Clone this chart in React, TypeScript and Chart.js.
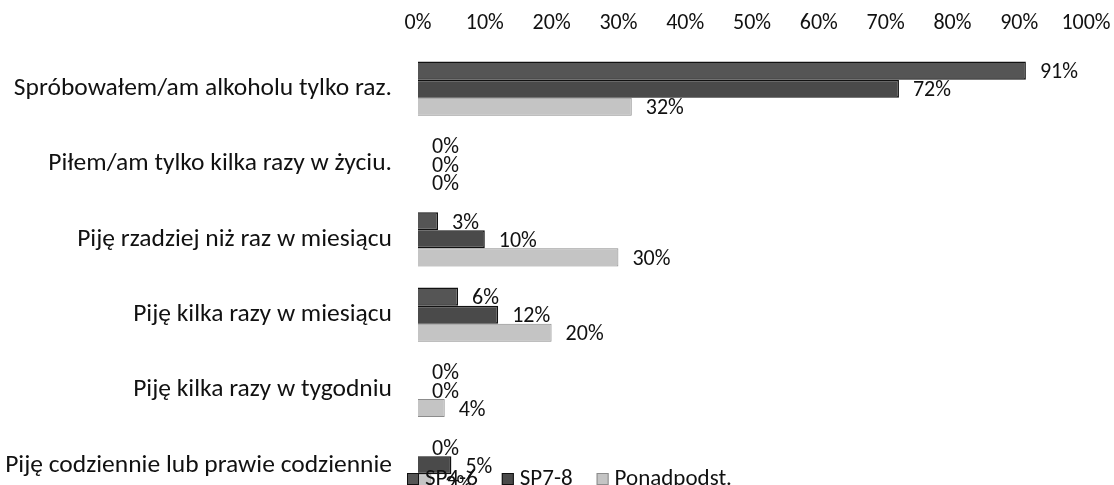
import React, { useEffect, useRef } from "react";
import { Chart, registerables } from "chart.js";

Chart.register(...registerables);

const categories = [
  "Spróbowałem/am alkoholu tylko raz.",
  "Piłem/am tylko kilka razy w życiu.",
  "Piję rzadziej niż raz w miesiącu",
  "Piję kilka razy w miesiącu",
  "Piję kilka razy w tygodniu",
  "Piję codziennie lub prawie codziennie",
];
const seriesNames = ["SP4-6", "SP7-8", "Ponadpodst."];
const sp46 = [91, 0, 3, 6, 0, 0];
const sp78 = [72, 0, 10, 12, 0, 5];
const ponad = [32, 0, 30, 20, 4, 2];
const xTicks = [0, 10, 20, 30, 40, 50, 60, 70, 80, 90, 100];

const FONT = "Carlito, Lato, 'Liberation Sans', sans-serif";
const fills = ["#555555", "#4a4a4a", "#c4c4c4"];
const borders = ["#111111", "#111111", "#8c8c8c"];

const labelPlugin = {
  id: "valueLabels",
  afterDatasetsDraw(chart: any) {
    const ctx = chart.ctx;
    ctx.save();
    ctx.font = `22px ${FONT}`;
    ctx.fillStyle = "#111";
    ctx.textAlign = "left";
    ctx.textBaseline = "middle";
    chart.data.datasets.forEach((ds: any, i: number) => {
      const meta = chart.getDatasetMeta(i);
      meta.data.forEach((bar: any, j: number) => {
        ctx.fillText(ds.data[j] + "%", bar.x + 14, bar.y + 2);
      });
    });
    ctx.restore();
  },
};

const legendPlugin = {
  id: "bottomLegend",
  afterDraw(chart: any) {
    const ctx = chart.ctx;
    ctx.save();
    ctx.font = `23px ${FONT}`;
    ctx.textAlign = "left";
    ctx.textBaseline = "middle";
    let x = 407;
    const y = 479;
    seriesNames.forEach((name, i) => {
      ctx.fillStyle = fills[i];
      ctx.fillRect(x, y - 6, 12, 12);
      ctx.strokeStyle = borders[i];
      ctx.lineWidth = 1;
      ctx.strokeRect(x + 0.5, y - 5.5, 11, 11);
      ctx.fillStyle = "#111";
      ctx.fillText(name, x + 18, y);
      x += 18 + ctx.measureText(name).width + 24;
    });
    ctx.restore();
  },
};

export default function App() {
  const ref = useRef<HTMLCanvasElement>(null);
  useEffect(() => {
    if (!ref.current) return;
    const data = [sp46, sp78, ponad];
    const chart = new Chart(ref.current, {
      type: "bar",
      data: {
        labels: categories,
        datasets: seriesNames.map((name, i) => ({
          label: name,
          data: data[i],
          backgroundColor: fills[i],
          borderColor: borders[i],
          borderWidth: i === 2 ? 1 : 1.5,
          barPercentage: 1,
          categoryPercentage: 0.72,
        })),
      },
      options: {
        indexAxis: "y",
        animation: false,
        responsive: false,
        maintainAspectRatio: false,
        layout: {
          autoPadding: false,
          padding: { left: 0, right: 28, top: 0, bottom: 0 },
        },
        plugins: {
          legend: { display: false },
          tooltip: { enabled: false },
        },
        scales: {
          x: {
            position: "top",
            min: 0,
            max: 100,
            afterFit(scale: any) {
              scale.height = 51;
              scale.paddingLeft = 0;
              scale.paddingRight = 0;
            },
            afterBuildTicks(scale: any) {
              scale.ticks = xTicks.map((v) => ({ value: v }));
            },
            ticks: {
              callback: (v: any) => v + "%",
              color: "#111",
              font: { family: FONT, size: 22 },
              padding: 14,
              maxRotation: 0,
            },
            grid: { display: false, drawTicks: false },
            border: { display: false },
          },
          y: {
            afterFit(scale: any) {
              scale.width = 418;
              scale.paddingTop = 0;
              scale.paddingBottom = 0;
            },
            ticks: {
              color: "#111",
              font: { family: FONT, size: 25.5 },
              padding: 26,
            },
            grid: { display: false, drawTicks: false },
            border: { display: false },
          },
        },
      },
      plugins: [labelPlugin, legendPlugin],
    });
    return () => chart.destroy();
  }, []);
  return (
    <div
      style={{
        position: "fixed",
        left: 0,
        top: 0,
        width: 1114,
        height: 485,
        overflow: "hidden",
        background: "#fff",
      }}
    >
      <canvas ref={ref} width={1114} height={503} style={{ display: "block" }} />
    </div>
  );
}
